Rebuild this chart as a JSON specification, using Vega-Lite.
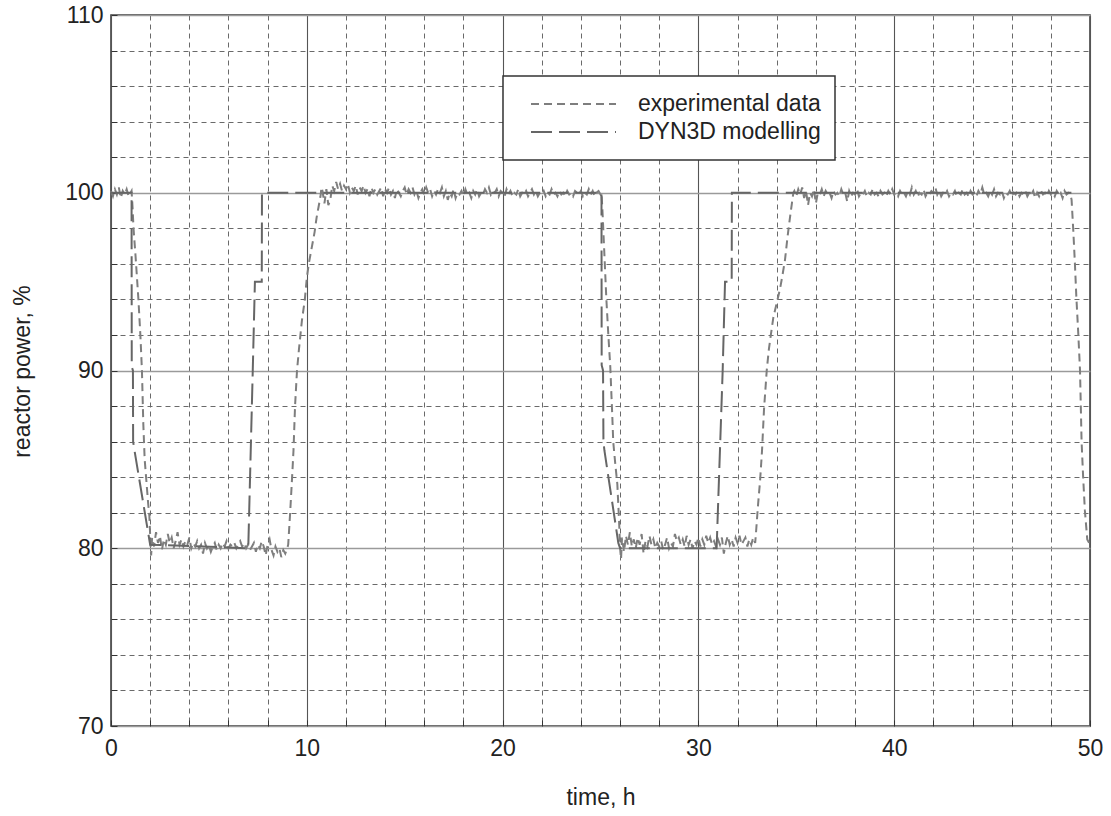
{
"$schema": "https://vega.github.io/schema/vega-lite/v6.json",
"width": 979, "height": 711,
"autosize": "none",
"padding": {"left": 111, "top": 15, "right": 21, "bottom": 90},
"background": "white",
"config": {
 "view": {"stroke": "#333", "strokeWidth": 1.5},
 "axis": {"labelFont": "Liberation Sans", "labelFontSize": 23, "labelColor": "#222", "titleFont": "Liberation Sans", "titleFontSize": 23, "titleFontWeight": "normal", "titleColor": "#222", "domain": false, "tickColor": "#333", "tickSize": -6, "tickWidth": 1},
 "legend": {"strokeColor": "#333", "strokeWidth": 1.5, "fillColor": "white"}
},
"layer": [
 {
  "data": {"values": [
{"t":0,"p":100.1},{"t":0.1,"p":99.8},{"t":0.2,"p":100.2},{"t":0.3,"p":99.9},{"t":0.4,"p":100.3},{"t":0.5,"p":99.7},{"t":0.6,"p":100.1},{"t":0.7,"p":99.9},{"t":0.8,"p":100.2},{"t":0.9,"p":99.8},{"t":1.0,"p":100.0},{"t":1.05,"p":100.1},
{"t":1.1,"p":99.2},{"t":1.15,"p":98.0},{"t":1.25,"p":96.5},{"t":1.4,"p":94.0},{"t":1.5,"p":92.0},{"t":1.58,"p":90.0},{"t":1.65,"p":87.0},{"t":1.72,"p":85.0},{"t":1.82,"p":83.6},{"t":1.9,"p":82.5},{"t":1.96,"p":81.8},{"t":2.02,"p":80.2},{"t":2.05,"p":79.6},
{"t":2.1,"p":80.6},{"t":2.2,"p":80.1},{"t":2.3,"p":80.9},{"t":2.4,"p":80.3},{"t":2.5,"p":80.7},{"t":2.6,"p":79.9},{"t":2.7,"p":80.5},{"t":2.8,"p":80.2},{"t":2.9,"p":80.8},{"t":3.0,"p":80.3},{"t":3.1,"p":80.6},{"t":3.2,"p":80.0},{"t":3.3,"p":80.4},{"t":3.4,"p":80.9},{"t":3.5,"p":80.2},{"t":3.6,"p":80.5},{"t":3.7,"p":80.1},{"t":3.8,"p":80.4},{"t":3.9,"p":80.2},{"t":4.0,"p":80.6},{"t":4.1,"p":80.0},{"t":4.2,"p":80.3},{"t":4.3,"p":80.1},{"t":4.4,"p":80.4},{"t":4.5,"p":80.0},{"t":4.6,"p":80.2},{"t":4.7,"p":79.7},{"t":4.8,"p":80.3},{"t":4.9,"p":80.0},{"t":5.0,"p":80.2},{"t":5.1,"p":79.8},{"t":5.2,"p":80.1},{"t":5.3,"p":80.3},{"t":5.4,"p":79.9},{"t":5.5,"p":80.2},{"t":5.6,"p":80.0},{"t":5.7,"p":80.3},{"t":5.8,"p":80.1},{"t":5.9,"p":80.4},{"t":6.0,"p":80.0},{"t":6.1,"p":80.2},{"t":6.2,"p":80.1},{"t":6.3,"p":80.3},{"t":6.4,"p":80.0},{"t":6.5,"p":80.2},{"t":6.6,"p":80.4},{"t":6.7,"p":80.1},{"t":6.8,"p":80.3},{"t":6.9,"p":80.0},{"t":7.0,"p":80.2},{"t":7.1,"p":79.9},{"t":7.2,"p":80.1},{"t":7.3,"p":80.3},{"t":7.4,"p":79.8},{"t":7.5,"p":80.2},{"t":7.6,"p":80.0},{"t":7.7,"p":80.4},{"t":7.8,"p":80.1},{"t":7.9,"p":79.6},{"t":8.0,"p":80.2},{"t":8.1,"p":80.5},{"t":8.2,"p":79.9},{"t":8.3,"p":79.6},{"t":8.4,"p":80.1},{"t":8.5,"p":79.8},{"t":8.6,"p":80.0},{"t":8.7,"p":79.5},{"t":8.8,"p":79.9},{"t":8.9,"p":79.7},{"t":9.0,"p":80.0},{"t":9.05,"p":80.2},
{"t":9.15,"p":82.0},{"t":9.25,"p":84.0},{"t":9.32,"p":85.5},{"t":9.4,"p":88.0},{"t":9.5,"p":90.0},{"t":9.6,"p":91.2},{"t":9.75,"p":92.8},{"t":9.9,"p":94.0},{"t":10.0,"p":95.2},{"t":10.1,"p":96.0},{"t":10.2,"p":96.6},{"t":10.3,"p":97.2},{"t":10.4,"p":97.8},{"t":10.5,"p":98.6},{"t":10.6,"p":99.2},{"t":10.7,"p":99.8},{"t":10.75,"p":100.3},
{"t":10.8,"p":100.1},{"t":10.9,"p":99.4},{"t":11.0,"p":100.2},{"t":11.1,"p":99.3},{"t":11.2,"p":99.6},{"t":11.3,"p":100.4},{"t":11.4,"p":100.1},{"t":11.5,"p":100.6},{"t":11.6,"p":100.2},{"t":11.7,"p":100.5},{"t":11.8,"p":100.1},{"t":11.9,"p":100.4},{"t":12.0,"p":100.2},{"t":12.1,"p":100.5},{"t":12.2,"p":100.0},{"t":12.3,"p":100.3},{"t":12.4,"p":100.1},{"t":12.5,"p":100.4},{"t":12.6,"p":99.9},{"t":12.7,"p":100.3},{"t":12.8,"p":100.1},{"t":12.9,"p":100.4},{"t":13.0,"p":100.0},{"t":13.1,"p":100.2},{"t":13.2,"p":99.8},{"t":13.3,"p":100.3},{"t":13.4,"p":100.0},{"t":13.5,"p":100.2},{"t":13.6,"p":99.9},{"t":13.7,"p":100.1},{"t":13.8,"p":100.3},{"t":13.9,"p":99.8},{"t":14.0,"p":100.2},{"t":14.1,"p":100.0},{"t":14.2,"p":100.3},{"t":14.3,"p":99.9},{"t":14.4,"p":100.1},{"t":14.5,"p":99.7},{"t":14.6,"p":100.2},{"t":14.7,"p":100.0},{"t":14.8,"p":99.8},{"t":14.9,"p":100.1},{"t":15.0,"p":100.3},{"t":15.1,"p":99.9},{"t":15.2,"p":100.2},{"t":15.3,"p":100.0},{"t":15.4,"p":100.3},{"t":15.5,"p":99.9},{"t":15.6,"p":100.1},{"t":15.7,"p":99.7},{"t":15.8,"p":100.0},{"t":15.9,"p":100.2},{"t":16.0,"p":99.9},{"t":16.1,"p":100.3},{"t":16.2,"p":100.0},{"t":16.3,"p":100.2},{"t":16.4,"p":99.8},{"t":16.5,"p":100.1},{"t":16.6,"p":99.9},{"t":16.7,"p":100.2},{"t":16.8,"p":100.0},{"t":16.9,"p":100.3},{"t":17.0,"p":99.8},{"t":17.1,"p":100.1},{"t":17.2,"p":99.6},{"t":17.3,"p":100.0},{"t":17.4,"p":99.8},{"t":17.5,"p":100.2},{"t":17.6,"p":99.7},{"t":17.7,"p":100.0},{"t":17.8,"p":99.9},{"t":17.9,"p":100.1},{"t":18.0,"p":99.8},{"t":18.1,"p":100.2},{"t":18.2,"p":99.9},{"t":18.3,"p":100.0},{"t":18.4,"p":99.7},{"t":18.5,"p":100.1},{"t":18.6,"p":99.9},{"t":18.7,"p":100.2},{"t":18.8,"p":99.8},{"t":18.9,"p":100.0},{"t":19.0,"p":99.9},{"t":19.1,"p":100.2},{"t":19.2,"p":100.0},{"t":19.3,"p":100.3},{"t":19.4,"p":99.9},{"t":19.5,"p":100.1},{"t":19.6,"p":100.0},{"t":19.7,"p":100.2},{"t":19.8,"p":99.8},{"t":19.9,"p":100.1},{"t":20.0,"p":100.0},{"t":20.1,"p":99.8},{"t":20.2,"p":100.2},{"t":20.3,"p":99.9},{"t":20.4,"p":100.1},{"t":20.5,"p":99.8},{"t":20.6,"p":100.0},{"t":20.7,"p":99.9},{"t":20.8,"p":100.2},{"t":20.9,"p":99.8},{"t":21.0,"p":100.0},{"t":21.1,"p":99.9},{"t":21.2,"p":100.1},{"t":21.3,"p":99.8},{"t":21.4,"p":100.0},{"t":21.5,"p":100.2},{"t":21.6,"p":99.9},{"t":21.7,"p":100.1},{"t":21.8,"p":99.8},{"t":21.9,"p":100.0},{"t":22.0,"p":99.9},{"t":22.1,"p":100.1},{"t":22.2,"p":99.8},{"t":22.3,"p":100.0},{"t":22.4,"p":99.9},{"t":22.5,"p":100.2},{"t":22.6,"p":99.9},{"t":22.7,"p":100.0},{"t":22.8,"p":99.8},{"t":22.9,"p":100.1},{"t":23.0,"p":99.9},{"t":23.1,"p":100.0},{"t":23.2,"p":99.8},{"t":23.3,"p":100.1},{"t":23.4,"p":99.9},{"t":23.5,"p":100.0},{"t":23.6,"p":99.8},{"t":23.7,"p":100.1},{"t":23.8,"p":100.0},{"t":23.9,"p":99.9},{"t":24.0,"p":100.1},{"t":24.1,"p":99.8},{"t":24.2,"p":100.0},{"t":24.3,"p":99.9},{"t":24.4,"p":100.2},{"t":24.5,"p":99.9},{"t":24.6,"p":100.1},{"t":24.7,"p":99.8},{"t":24.8,"p":100.0},{"t":24.9,"p":100.1},{"t":25.0,"p":99.9},{"t":25.05,"p":100.0},
{"t":25.1,"p":99.0},{"t":25.2,"p":96.5},{"t":25.3,"p":94.0},{"t":25.4,"p":92.0},{"t":25.5,"p":90.2},{"t":25.6,"p":87.5},{"t":25.65,"p":86.0},{"t":25.75,"p":84.8},{"t":25.86,"p":83.6},{"t":25.95,"p":81.5},{"t":26.0,"p":80.0},{"t":26.05,"p":79.4},
{"t":26.1,"p":80.6},{"t":26.2,"p":79.8},{"t":26.3,"p":80.7},{"t":26.4,"p":80.2},{"t":26.5,"p":80.9},{"t":26.6,"p":80.1},{"t":26.7,"p":80.5},{"t":26.8,"p":80.0},{"t":26.9,"p":80.6},{"t":27.0,"p":80.2},{"t":27.1,"p":80.8},{"t":27.2,"p":79.7},{"t":27.3,"p":80.4},{"t":27.4,"p":80.1},{"t":27.5,"p":80.7},{"t":27.6,"p":80.2},{"t":27.7,"p":80.5},{"t":27.8,"p":80.0},{"t":27.9,"p":80.3},{"t":28.0,"p":80.1},{"t":28.1,"p":80.4},{"t":28.2,"p":79.9},{"t":28.3,"p":80.2},{"t":28.4,"p":80.6},{"t":28.5,"p":80.0},{"t":28.6,"p":80.3},{"t":28.7,"p":80.1},{"t":28.8,"p":80.8},{"t":28.9,"p":80.4},{"t":29.0,"p":80.6},{"t":29.1,"p":80.2},{"t":29.2,"p":80.5},{"t":29.3,"p":80.1},{"t":29.4,"p":80.7},{"t":29.5,"p":80.2},{"t":29.6,"p":80.5},{"t":29.7,"p":80.0},{"t":29.8,"p":80.4},{"t":29.9,"p":80.2},{"t":30.0,"p":80.6},{"t":30.1,"p":80.1},{"t":30.2,"p":80.5},{"t":30.3,"p":80.2},{"t":30.4,"p":80.7},{"t":30.5,"p":80.3},{"t":30.6,"p":80.6},{"t":30.7,"p":80.2},{"t":30.8,"p":80.4},{"t":30.9,"p":80.1},{"t":31.0,"p":80.5},{"t":31.1,"p":80.2},{"t":31.2,"p":80.6},{"t":31.3,"p":79.7},{"t":31.4,"p":80.3},{"t":31.5,"p":80.7},{"t":31.6,"p":80.2},{"t":31.7,"p":80.5},{"t":31.8,"p":80.1},{"t":31.9,"p":80.6},{"t":32.0,"p":80.3},{"t":32.1,"p":80.7},{"t":32.2,"p":80.2},{"t":32.3,"p":80.4},{"t":32.4,"p":80.6},{"t":32.5,"p":80.1},{"t":32.6,"p":80.5},{"t":32.7,"p":80.2},{"t":32.8,"p":80.6},{"t":32.9,"p":80.3},
{"t":32.95,"p":81.0},{"t":33.05,"p":82.5},{"t":33.15,"p":83.8},{"t":33.25,"p":85.5},{"t":33.35,"p":87.8},{"t":33.49,"p":90.0},{"t":33.6,"p":91.2},{"t":33.7,"p":92.0},{"t":33.83,"p":93.0},{"t":34.0,"p":93.8},{"t":34.17,"p":94.6},{"t":34.3,"p":95.4},{"t":34.42,"p":96.2},{"t":34.55,"p":97.5},{"t":34.7,"p":98.8},{"t":34.85,"p":100.0},
{"t":34.9,"p":100.1},{"t":35.0,"p":99.8},{"t":35.1,"p":100.2},{"t":35.2,"p":99.9},{"t":35.3,"p":100.3},{"t":35.4,"p":99.7},{"t":35.5,"p":100.1},{"t":35.6,"p":99.3},{"t":35.7,"p":100.0},{"t":35.8,"p":99.8},{"t":35.9,"p":100.2},{"t":36.0,"p":99.4},{"t":36.1,"p":100.0},{"t":36.2,"p":99.9},{"t":36.3,"p":100.2},{"t":36.4,"p":99.8},{"t":36.5,"p":100.1},{"t":36.6,"p":99.9},{"t":36.7,"p":100.0},{"t":36.8,"p":99.7},{"t":36.9,"p":100.1},{"t":37.0,"p":99.9},{"t":37.1,"p":100.0},{"t":37.2,"p":99.8},{"t":37.3,"p":100.2},{"t":37.4,"p":99.9},{"t":37.5,"p":100.0},{"t":37.6,"p":99.5},{"t":37.7,"p":100.1},{"t":37.8,"p":99.8},{"t":37.9,"p":100.0},{"t":38.0,"p":99.9},{"t":38.1,"p":100.2},{"t":38.2,"p":99.8},{"t":38.3,"p":100.0},{"t":38.4,"p":99.9},{"t":38.5,"p":100.1},{"t":38.6,"p":99.8},{"t":38.7,"p":100.0},{"t":38.8,"p":99.9},{"t":38.9,"p":100.2},{"t":39.0,"p":99.9},{"t":39.1,"p":100.0},{"t":39.2,"p":99.8},{"t":39.3,"p":100.1},{"t":39.4,"p":99.9},{"t":39.5,"p":100.0},{"t":39.6,"p":99.8},{"t":39.7,"p":100.1},{"t":39.8,"p":99.9},{"t":39.9,"p":100.2},{"t":40.0,"p":99.9},{"t":40.1,"p":100.0},{"t":40.2,"p":99.8},{"t":40.3,"p":100.1},{"t":40.4,"p":99.9},{"t":40.5,"p":100.0},{"t":40.6,"p":99.8},{"t":40.7,"p":100.1},{"t":40.8,"p":99.9},{"t":40.9,"p":100.3},{"t":41.0,"p":99.9},{"t":41.1,"p":100.1},{"t":41.2,"p":99.8},{"t":41.3,"p":100.0},{"t":41.4,"p":99.9},{"t":41.5,"p":100.2},{"t":41.6,"p":99.8},{"t":41.7,"p":100.0},{"t":41.8,"p":99.9},{"t":41.9,"p":100.1},{"t":42.0,"p":100.0},{"t":42.1,"p":100.3},{"t":42.2,"p":99.9},{"t":42.3,"p":100.1},{"t":42.4,"p":99.8},{"t":42.5,"p":100.0},{"t":42.6,"p":99.9},{"t":42.7,"p":100.1},{"t":42.8,"p":99.8},{"t":42.9,"p":100.0},{"t":43.0,"p":99.9},{"t":43.1,"p":100.1},{"t":43.2,"p":99.8},{"t":43.3,"p":100.0},{"t":43.4,"p":99.9},{"t":43.5,"p":100.2},{"t":43.6,"p":99.9},{"t":43.7,"p":100.0},{"t":43.8,"p":99.8},{"t":43.9,"p":100.1},{"t":44.0,"p":99.9},{"t":44.1,"p":100.0},{"t":44.2,"p":99.8},{"t":44.3,"p":100.1},{"t":44.4,"p":99.9},{"t":44.5,"p":100.3},{"t":44.6,"p":99.9},{"t":44.7,"p":100.0},{"t":44.8,"p":99.8},{"t":44.9,"p":100.1},{"t":45.0,"p":99.9},{"t":45.1,"p":100.2},{"t":45.2,"p":99.8},{"t":45.3,"p":100.0},{"t":45.4,"p":99.9},{"t":45.5,"p":100.1},{"t":45.6,"p":99.7},{"t":45.7,"p":100.0},{"t":45.8,"p":99.9},{"t":45.9,"p":100.1},{"t":46.0,"p":99.8},{"t":46.1,"p":100.0},{"t":46.2,"p":99.9},{"t":46.3,"p":100.1},{"t":46.4,"p":99.8},{"t":46.5,"p":100.0},{"t":46.6,"p":99.9},{"t":46.7,"p":100.1},{"t":46.8,"p":99.8},{"t":46.9,"p":100.0},{"t":47.0,"p":99.9},{"t":47.1,"p":100.1},{"t":47.2,"p":99.7},{"t":47.3,"p":100.0},{"t":47.4,"p":99.8},{"t":47.5,"p":100.1},{"t":47.6,"p":99.9},{"t":47.7,"p":100.0},{"t":47.8,"p":99.8},{"t":47.9,"p":100.1},{"t":48.0,"p":99.9},{"t":48.1,"p":100.0},{"t":48.2,"p":99.8},{"t":48.3,"p":100.1},{"t":48.4,"p":99.9},{"t":48.5,"p":100.0},{"t":48.6,"p":99.7},{"t":48.7,"p":100.1},{"t":48.8,"p":99.9},{"t":48.9,"p":100.0},{"t":49.0,"p":99.9},
{"t":49.06,"p":99.6},{"t":49.15,"p":97.8},{"t":49.23,"p":96.0},{"t":49.3,"p":94.2},{"t":49.4,"p":92.1},{"t":49.49,"p":90.0},{"t":49.57,"p":86.0},{"t":49.65,"p":84.0},{"t":49.74,"p":82.1},{"t":49.86,"p":80.5},{"t":50.0,"p":80.2}
  ]},
  "mark": {"type": "line", "strokeWidth": 2},
  "encoding": {
   "x": {"field": "t", "type": "quantitative", "scale": {"domain": [0, 50], "nice": false, "zero": false}, "title": "time, h",
     "axis": {"values": [0,2,4,6,8,10,12,14,16,18,20,22,24,26,28,30,32,34,36,38,40,42,44,46,48,50], "tickCount": 100, "format": "d",
       "labelExpr": "datum.value % 10 === 0 ? datum.label : ''", "labelPadding": 17, "labelFlush": false, "labelOverlap": false,
       "grid": true,
       "gridColor": {"condition": {"test": "datum.value % 10 === 0", "value": "#555"}, "value": "#6a6a6a"},
       "gridDash": {"condition": {"test": "datum.value % 10 === 0", "value": [1, 0]}, "value": [5, 4]},
       "gridWidth": {"condition": {"test": "datum.value % 10 === 0", "value": 1.1}, "value": 1},
       "titleY": 71, "titleBaseline": "middle"}},
   "y": {"field": "p", "type": "quantitative", "scale": {"domain": [70, 110], "nice": false, "zero": false}, "title": "reactor power, %",
     "axis": {"values": [70,72,74,76,78,80,82,84,86,88,90,92,94,96,98,100,102,104,106,108,110], "tickCount": 100, "format": "d",
       "labelExpr": "datum.value % 10 === 0 ? datum.label : ''", "labelPadding": 14, "labelFlush": false, "labelOverlap": false,
       "grid": true,
       "gridColor": {"condition": {"test": "datum.value % 10 === 0", "value": "#9a9a9a"}, "value": "#6a6a6a"},
       "gridDash": {"condition": {"test": "datum.value % 10 === 0", "value": [1, 0]}, "value": [5, 4]},
       "gridWidth": {"condition": {"test": "datum.value % 10 === 0", "value": 1.6}, "value": 1},
       "titleX": -89, "titleY": 356, "titleAngle": -90, "titleAlign": "center", "titleBaseline": "middle"}},
   "color": {"datum": "experimental data", "scale": {"domain": ["experimental data", "DYN3D modelling"], "range": ["#7e7e7e", "#666666"]},
     "legend": {"orient": "none", "legendX": 392, "legendY": 61, "title": null, "symbolType": "stroke", "symbolSize": 7225, "symbolStrokeWidth": 2, "labelFont": "Liberation Sans", "labelFontSize": 23, "labelColor": "#222", "labelLimit": 400, "padding": 14, "symbolOffset": 13, "labelOffset": 21, "clipHeight": 28, "rowPadding": 0}},
   "strokeDash": {"datum": "experimental data", "scale": {"domain": ["experimental data", "DYN3D modelling"], "range": [[8, 5], [21, 7]]}, "legend": null},
   "order": {"value": null}
  }
 },
 {
  "data": {"values": [
{"t":0,"p":100},{"t":1.05,"p":100},{"t":1.06,"p":90.2},{"t":1.12,"p":90},{"t":1.13,"p":86},{"t":1.2,"p":85.5},{"t":2.0,"p":80.2},{"t":7.01,"p":80},{"t":7.24,"p":90},{"t":7.35,"p":95},{"t":7.70,"p":95},{"t":7.71,"p":100},{"t":25.05,"p":100},{"t":25.06,"p":90.3},{"t":25.13,"p":90},{"t":25.15,"p":86},{"t":25.2,"p":85.5},{"t":25.91,"p":80.3},{"t":26.0,"p":80},{"t":30.93,"p":80},{"t":31.24,"p":90},{"t":31.36,"p":95},{"t":31.70,"p":95},{"t":31.71,"p":100},{"t":49.05,"p":100}
  ]},
  "mark": {"type": "line", "strokeWidth": 2},
  "encoding": {
   "x": {"field": "t", "type": "quantitative"},
   "y": {"field": "p", "type": "quantitative"},
   "color": {"datum": "DYN3D modelling"},
   "strokeDash": {"datum": "DYN3D modelling"},
   "order": {"value": null}
  }
 }
]
}
